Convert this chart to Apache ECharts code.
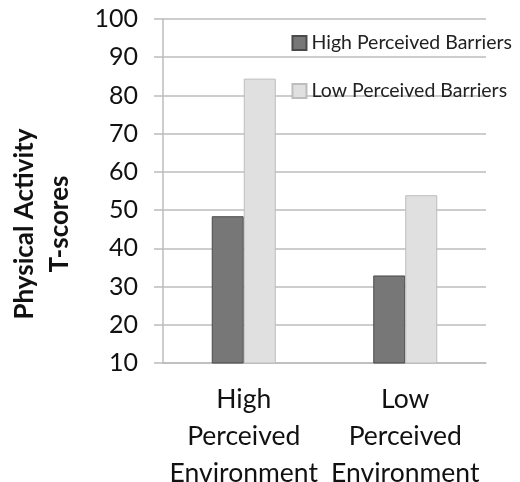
<!DOCTYPE html>
<html><head><meta charset="utf-8">
<script src="https://cdn.jsdelivr.net/npm/echarts@6/dist/echarts.min.js"></script>
<style>html,body{margin:0;padding:0;background:#fff}#c{width:520px;height:482px}</style>
</head><body><div id="c"></div>
<script>
var categories = ['High\nPerceived\nEnvironment', 'Low\nPerceived\nEnvironment'];
var seriesNames = ['High Perceived Barriers', 'Low Perceived Barriers'];
var highBarriers = [48.4, 32.9];
var lowBarriers = [84.4, 53.9];
var yTicks = [10, 100, 10];

var font = 'Lato, "Open Sans", sans-serif';
var chart = echarts.init(document.getElementById('c'));
chart.setOption({
  animation: false,
  backgroundColor: '#fff',
  textStyle: { fontFamily: font },
  grid: { left: 163, right: 34, top: 19, bottom: 119, containLabel: false, outerBoundsMode: 'none' },
  legend: {
    orient: 'vertical', right: 3, top: 28, itemGap: 28,
    itemWidth: 14, itemHeight: 14, icon: 'rect',
    textStyle: { fontFamily: font, fontSize: 19.5, lineHeight: 20, color: '#222' },
    data: seriesNames
  },
  xAxis: {
    type: 'category', data: categories,
    axisLine: { lineStyle: { color: '#bcbcbc', width: 1.5 } },
    axisTick: { show: false },
    axisLabel: { interval: 0, fontFamily: font, fontSize: 26.5, color: '#111', lineHeight: 37, margin: 18 }
  },
  yAxis: {
    type: 'value', min: yTicks[0], max: yTicks[1], interval: yTicks[2],
    name: 'Physical Activity\nT-scores', nameLocation: 'middle', nameRotate: 90, nameGap: 86,
    nameTextStyle: { fontFamily: font, fontSize: 26, fontWeight: 'bold', color: '#111', lineHeight: 35, padding: [0, 66, 0, 0] },
    axisLine: { show: true, lineStyle: { color: '#bcbcbc', width: 1.5 } },
    axisTick: { show: true, inside: false, length: 9, lineStyle: { color: '#bcbcbc', width: 1.5 } },
    axisLabel: { fontFamily: font, fontSize: 25, color: '#111', margin: 25 },
    splitLine: { lineStyle: { color: '#bcbcbc', width: 1.5 } }
  },
  series: [
    { name: seriesNames[0], type: 'bar', data: highBarriers, barWidth: 32, barGap: '0%',
      itemStyle: { color: '#777777', borderColor: '#4a4a4a', borderWidth: 1 } },
    { name: seriesNames[1], type: 'bar', data: lowBarriers, barWidth: 32, barGap: '0%',
      itemStyle: { color: '#e0e0e0', borderColor: '#bdbdbd', borderWidth: 1 } }
  ]
});
</script></body></html>
